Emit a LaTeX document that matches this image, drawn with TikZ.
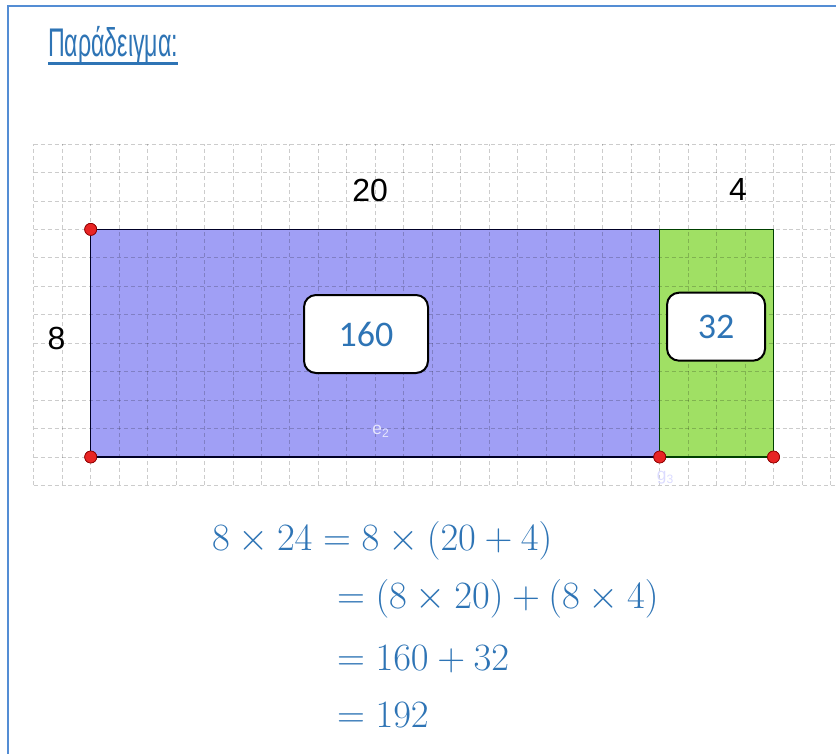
\documentclass[tikz,border=0pt]{standalone}
\usepackage{fontspec}
\usepackage{xcolor}
\usepackage{tikz}
\usetikzlibrary{calc}
\newfontfamily\labelfont{Liberation Sans}
\newfontfamily\boxfont{Carlito}
\definecolor{wordblue}{RGB}{46,116,181}
\definecolor{framecol}{RGB}{84,141,212}
\definecolor{rectblue}{RGB}{160,159,245}
\definecolor{rectgreen}{RGB}{160,224,100}
\definecolor{ptred}{RGB}{232,36,36}
\begin{document}
\begin{tikzpicture}[x=0.75cm,y=0.75cm,
  gridline/.style={draw=black,opacity=0.2,line width=0.6pt,dash pattern=on 3pt off 2.2pt},
  valbox/.style={draw=black,fill=white,line width=1.5pt,rounded corners=9pt,text=wordblue,font=\boxfont\fontsize{27}{32}\selectfont},
  sidelabel/.style={font=\labelfont\fontsize{24}{28}\selectfont},
  eqline/.style={anchor=base west,inner sep=0pt,text=wordblue,font=\Huge,scale=1.166},
  corner/.style={circle,fill=ptred,draw=red!55!black,line width=0.5pt,inner sep=0pt,minimum size=9pt}]
  \useasboundingbox (-3.188,-10.404) rectangle (26.196,16.063);
  \draw[framecol,line width=1.2pt] (-2.907,-10.6) -- (-2.907,15.85) -- (26.4,15.85);
  \node[anchor=base west,inner sep=0pt,text=wordblue,font=\labelfont\fontsize{30}{34}\selectfont,xscale=0.58] (title) at (-1.5,14.06) {Παράδειγμα:};
  \draw[wordblue,line width=2pt] ([yshift=-4.8pt]title.base west) -- ([yshift=-4.8pt]title.base east);
  \fill[rectblue] (0,0) rectangle (20,8);
  \fill[rectgreen] (20,0) rectangle (24,8);
  \foreach \gx in {-2,...,26} \draw[gridline] (\gx,-1) -- (\gx,11);
  \foreach \gy in {-1,...,11} \draw[gridline] (-2,\gy) -- (26.3,\gy);
  \node[corner] (A) at (0,8) {};
  \node[corner] (B) at (0,0) {};
  \node[corner] (C) at (20,0) {};
  \node[corner] (D) at (24,0) {};
  \coordinate (E) at (20,8);
  \coordinate (F) at (24,8);
  \draw[blue!15!black,line width=0.9pt] (B.center) -- (A.center) -- (E) -- (C.center) -- (B.center);
  \draw[green!25!black,line width=0.9pt] (C.center) -- (E) -- (F) -- (D.center) -- (C.center);
  \foreach \p in {A,B,C,D} \node[corner] at (\p) {};
  \node[text=white!75!rectblue,font=\labelfont\fontsize{13}{15}\selectfont] (e2) at (10.2,0.9) {e\textsubscript{2}};
  \node[text=blue!14,font=\labelfont\fontsize{13}{15}\selectfont] (g3) at (20.2,-0.72) {g\textsubscript{3}};
  \node[valbox,minimum width=93pt,minimum height=58.5pt] (area1) at (9.677,4.323) {160};
  \node[valbox,minimum width=73.5pt,minimum height=51pt] (area2) at (21.98,4.58) {32};
  \node[sidelabel] (len1) at (9.82,9.35) {20};
  \node[sidelabel] (len2) at (22.75,9.385) {4};
  \node[sidelabel] (hgt) at (-1.20,4.18) {8};
  \node[eqline] (eq1) at (4.253,-3.27) {$8\times24=8\times(20+4)$};
  \node[eqline] (eq2) at (8.647,-5.31) {$=(8\times20)+(8\times4)$};
  \node[eqline] (eq3) at (8.647,-7.49) {$=160+32$};
  \node[eqline] (eq4) at (8.647,-9.525) {$=192$};
\end{tikzpicture}
\end{document}
